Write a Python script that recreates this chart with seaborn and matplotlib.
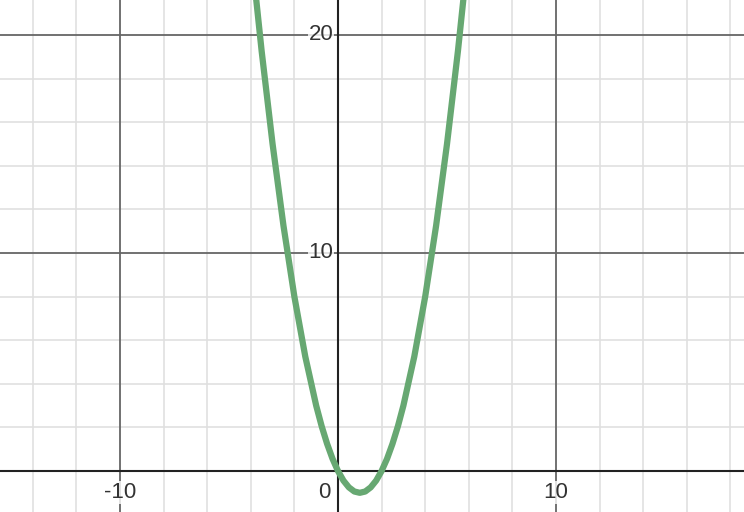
import numpy as np
import pandas as pd
import matplotlib.pyplot as plt
import seaborn as sns

# points
x_vals = [-4.0, -3.5, -3.0, -2.5, -2.0, -1.5, -1.0, -0.75, -0.5, -0.25, 0.0,
          0.25, 0.5, 0.75, 1.0, 1.25, 1.5, 1.75, 2.0, 2.25, 2.5, 2.75, 3.0,
          3.5, 4.0, 4.5, 5.0, 5.5, 6.0]
y_vals = [24.0, 19.25, 15.0, 11.25, 8.0, 5.25, 3.0, 2.06, 1.25, 0.56, 0.0,
          -0.44, -0.75, -0.94, -1.0, -0.94, -0.75, -0.44, 0.0, 0.56, 1.25, 2.06, 3.0,
          5.25, 8.0, 11.25, 15.0, 19.25, 24.0]

x_ticks = [-10, 10]
y_ticks = [10, 20]

sns.set_style("white")
plt.rcParams['font.family'] = ['Liberation Sans', 'DejaVu Sans']

fig = plt.figure(figsize=(7.44, 5.12), dpi=100)
ax = fig.add_axes([0, 0, 1, 1])
xlim = (-15.5, 18.62)
ylim = (-1.88, 21.6)

# minor grid every 2, major every 10
for v in np.arange(-14, 19, 2):
    if v % 10 == 0:
        continue
    ax.axvline(v, color="#e0e0e0", lw=1.2, zorder=0)
for v in np.arange(-2, 22, 2):
    if v % 10 == 0:
        continue
    ax.axhline(v, color="#e0e0e0", lw=1.2, zorder=0)
for v in [-10, 10]:
    ax.axvline(v, color="#666666", lw=1.3, zorder=1)
for v in [10, 20]:
    ax.axhline(v, color="#666666", lw=1.3, zorder=1)
ax.axvline(0, color="#222222", lw=1.5, zorder=2)
ax.axhline(0, color="#222222", lw=1.5, zorder=2)

df = pd.DataFrame({"x": x_vals, "y": y_vals})
sns.lineplot(data=df, x="x", y="y", ax=ax, color="#67a872", lw=4.5,
             sort=False, zorder=3, solid_capstyle="round",
             solid_joinstyle="round")

box = dict(facecolor="white", edgecolor="none", pad=0.5, alpha=0.8)
for t in x_ticks:
    ax.text(t, -0.5, str(t), ha="center", va="top", fontsize=16,
            color="#333333", bbox=box, zorder=2.5)
ax.text(-0.35, -0.5, "0", ha="right", va="top", fontsize=16,
        color="#333333", bbox=box, zorder=2.5)
for t in y_ticks:
    ax.text(-0.2, t, str(t), ha="right", va="center", fontsize=16,
            color="#333333", bbox=box, zorder=2.5)

ax.set_xlim(*xlim)
ax.set_ylim(*ylim)
ax.set_xlabel("")
ax.set_ylabel("")
ax.set_xticks([])
ax.set_yticks([])
for s in ax.spines.values():
    s.set_visible(False)

fig.savefig("out.png", dpi=100)
